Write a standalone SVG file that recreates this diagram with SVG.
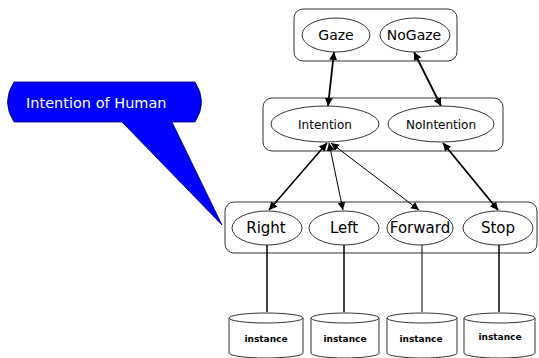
<svg xmlns="http://www.w3.org/2000/svg" width="539" height="358" viewBox="0 0 539 358">
  <defs>
    <marker id="ah" viewBox="0 0 10 10" refX="10" refY="5" markerWidth="8" markerHeight="8" markerUnits="userSpaceOnUse" orient="auto-start-reverse">
      <path d="M0,0 L10,5 L0,10 Z" fill="#000"/>
    </marker>
    <style>
      .grp { fill: #fff; stroke: #333; stroke-width: 1; }
      .node { fill: #fff; stroke: #333; stroke-width: 1; }
      .lbl { font-family: "DejaVu Sans", Verdana, sans-serif; fill: #000; text-anchor: middle; }
      .edge { stroke: #000; fill: none; marker-start: url(#ah); marker-end: url(#ah); }
      .link { stroke: #000; fill: none; }
      .db { fill: #fff; stroke: #333; stroke-width: 1; }
      .inst { font-family: "DejaVu Sans", Verdana, sans-serif; font-size: 9px; font-weight: bold; text-anchor: middle; fill: #000; }
    </style>
  </defs>

  <!-- group frames -->
  <rect class="grp" x="294" y="9" width="163" height="52" rx="9"/>
  <rect class="grp" x="263" y="98" width="240" height="53" rx="9"/>
  <rect class="grp" x="225" y="202" width="312" height="51" rx="9"/>

  <!-- callout -->
  <g id="callout">
    <path d="M14,82 H195 Q208,102 195,122 H172 L222,225 L122,122 H14 Q1,102 14,82 Z" fill="#0000ff" stroke="#000066" stroke-width="0.8"/>
    <text x="26" y="108" font-family="DejaVu Sans, Verdana, sans-serif" font-size="14.5" fill="#fff">Intention of Human</text>
  </g>

  <!-- connectors -->
  <g id="connectors">
    <line class="edge" x1="334" y1="52" x2="328" y2="106" stroke-width="1.8"/>
    <line class="edge" x1="414" y1="52" x2="441" y2="106" stroke-width="1.8"/>
    <line class="edge" x1="327" y1="143" x2="269" y2="210" stroke-width="1.6"/>
    <line class="edge" x1="329" y1="143" x2="343" y2="210" stroke-width="1"/>
    <line class="edge" x1="331" y1="143" x2="419" y2="210" stroke-width="1"/>
    <line class="edge" x1="443" y1="143" x2="498" y2="210" stroke-width="1.8"/>
    <line class="link" x1="267" y1="245" x2="267" y2="312" stroke-width="1.5"/>
    <line class="link" x1="344" y1="245" x2="344" y2="312" stroke-width="1.5"/>
    <line class="link" x1="422" y1="245" x2="422" y2="312" stroke-width="1" stroke="#555"/>
    <line class="link" x1="499" y1="245" x2="499" y2="312" stroke-width="1.5"/>
  </g>

  <!-- top level -->
  <g id="gaze">
    <ellipse class="node" cx="336" cy="35" rx="34" ry="17"/>
    <text class="lbl" x="336" y="40" font-size="14">Gaze</text>
  </g>
  <g id="nogaze">
    <ellipse class="node" cx="415" cy="35" rx="35" ry="17"/>
    <text class="lbl" x="414" y="40" font-size="14">NoGaze</text>
  </g>

  <!-- intention level -->
  <g id="intention">
    <ellipse class="node" cx="325" cy="124" rx="54" ry="18"/>
    <text class="lbl" x="325" y="129" font-size="12">Intention</text>
  </g>
  <g id="nointention">
    <ellipse class="node" cx="441" cy="124" rx="53" ry="18"/>
    <text class="lbl" x="441" y="129" font-size="12">NoIntention</text>
  </g>

  <!-- action level -->
  <g id="right">
    <ellipse class="node" cx="267" cy="228" rx="35" ry="17"/>
    <text class="lbl" x="266" y="233" font-size="15">Right</text>
  </g>
  <g id="left">
    <ellipse class="node" cx="344" cy="228" rx="35" ry="17"/>
    <text class="lbl" x="344" y="233" font-size="15">Left</text>
  </g>
  <g id="forward">
    <ellipse class="node" cx="420" cy="228" rx="33" ry="17"/>
    <text class="lbl" x="420" y="233" font-size="15">Forward</text>
  </g>
  <g id="stop">
    <ellipse class="node" cx="498" cy="228" rx="35" ry="17"/>
    <text class="lbl" x="498" y="233" font-size="15">Stop</text>
  </g>

  <!-- instance stores -->
  <g id="instance-right">
    <path class="db" d="M229,318 A37,5 0 0 1 303,318 V353 A37,5 0 0 1 229,353 Z"/>
    <path class="db" d="M229,318 A37,5 0 0 0 303,318" fill="none"/>
    <text class="inst" x="266" y="342">instance</text>
  </g>
  <g id="instance-left">
    <path class="db" d="M311,318 A34,5 0 0 1 379,318 V353 A34,5 0 0 1 311,353 Z"/>
    <path class="db" d="M311,318 A34,5 0 0 0 379,318" fill="none"/>
    <text class="inst" x="345" y="342">instance</text>
  </g>
  <g id="instance-forward">
    <path class="db" d="M387,318 A35,5 0 0 1 457,318 V353 A35,5 0 0 1 387,353 Z"/>
    <path class="db" d="M387,318 A35,5 0 0 0 457,318" fill="none"/>
    <text class="inst" x="421" y="342">instance</text>
  </g>
  <g id="instance-stop">
    <path class="db" d="M464,318 A35.5,5 0 0 1 535,318 V353 A35.5,5 0 0 1 464,353 Z"/>
    <path class="db" d="M464,318 A35.5,5 0 0 0 535,318" fill="none"/>
    <text class="inst" x="500" y="340">instance</text>
  </g>
</svg>
